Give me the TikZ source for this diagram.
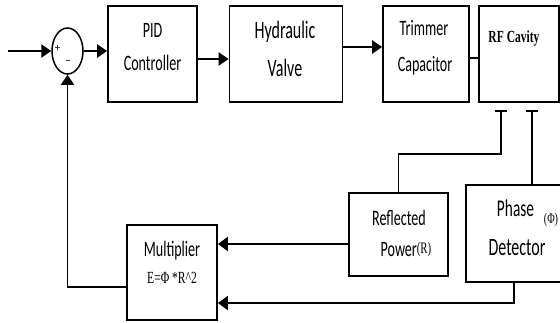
\documentclass[tikz,border=0pt]{standalone}
\usepackage{fontspec}
\setmainfont{Carlito}[FakeStretch=0.64]
\newfontfamily\tnr{Liberation Serif}[FakeStretch=0.68]
\newfontfamily\plain{Carlito}
\usetikzlibrary{arrows.meta,shapes.geometric}
\tikzset{
  blk/.style={draw, line width=1.8pt, inner sep=0pt},
  txt/.style={inner sep=0pt, text height=0.65em, text depth=0pt},
  thickarr/.style={line width=2.6pt, -{Triangle[length=10pt,width=13pt]}},
  lowarr/.style={line width=2pt, -{Triangle[length=10pt,width=14pt]}},
  wire/.style={line width=1.5pt},
  fs/.style={font=\fontsize{#1}{#1}\selectfont},
}
\begin{document}
\begin{tikzpicture}[x=1pt,y=-1pt]
\useasboundingbox (0,0) rectangle (560,322);
\clip (0,0) rectangle (560,322);
% summing junction
\node[draw, ellipse, line width=1.5pt, minimum width=31pt, minimum height=46pt, inner sep=0pt] (sum) at (67.5,51) {};
\node[inner sep=0pt, font=\plain\fontsize{11}{11}\selectfont] (plus) at (57.5,48) {+};
\node[inner sep=0pt, font=\plain\fontsize{12}{12}\selectfont] (minus) at (68,63) {–};
\coordinate (in) at (8,51);
% upper blocks
\node[blk, minimum width=89pt, minimum height=96pt] (pid) at (152.5,54) {};
\node[blk, minimum width=113pt, minimum height=96pt] (hyd) at (286,54) {};
\node[blk, minimum width=86pt, minimum height=96pt] (trim) at (426,54) {};
\node[blk, minimum width=80pt, minimum height=96pt] (rf) at (519,54) {};
% lower blocks
\node[blk, minimum width=99pt, minimum height=83pt] (refl) at (398.5,234.5) {};
\node[blk, minimum width=109pt, minimum height=97pt] (phase) at (520.5,233.5) {};
\node[blk, minimum width=90pt, minimum height=95pt] (mult) at (172,272.5) {};
% texts
\node[txt, fs=22] (t-pid) at (152.5,34) {PID};
\node[txt, fs=22] (t-con) at (152.5,67) {Controller};
\node[txt, fs=25] (t-hyd) at (285,35) {Hydraulic};
\node[txt, fs=25] (t-val) at (285,73) {Valve};
\node[txt, fs=22] (t-tri) at (424,32) {Trimmer};
\node[txt, fs=22] (t-cap) at (425,68) {Capacitor};
\node[txt, font=\tnr\bfseries\fontsize{17}{17}\selectfont] (t-rf) at (514,39) {RF Cavity};
\node[txt, fs=22] (t-ref) at (399,222) {Reflected};
\node[txt, fs=22] (t-pow) at (406,253) {Power\raisebox{3pt}{\tnr\fontsize{16}{16}\selectfont(R)}};
\node[txt, fs=24] (t-pha) at (515.5,213) {Phase};
\node[txt, font=\tnr\fontsize{15}{15}\selectfont] (t-phi) at (551,220) {(Φ)};
\node[txt, fs=25] (t-det) at (517,252) {Detector};
\node[txt, fs=22] (t-mul) at (172,253) {Multiplier};
\node[txt, font=\tnr\fontsize{17}{17}\selectfont] (t-eq) at (172,280) {E=Φ *R\textasciicircum 2};
% forward path
\draw[thickarr] (in) -- (sum.west);
\draw[thickarr] (sum.east) -- (sum.east -| pid.west);
\draw[thickarr] ([yshift=-5pt]pid.east) -- ([yshift=-5pt]hyd.west);
\draw[thickarr] ([yshift=7pt]hyd.east) -- ([yshift=7pt]trim.west);
\draw[line width=2.6pt] ([yshift=-4pt]trim.east) -- ([yshift=-4pt]rf.west);
% taps under RF cavity
\coordinate (tap1) at ([xshift=-18pt,yshift=-8pt]rf.south);
\coordinate (tap2) at ([xshift=13pt,yshift=-8pt]rf.south);
\draw[line width=1.8pt] ([xshift=-6pt]tap1) -- ([xshift=6pt]tap1);
\draw[line width=1.8pt] ([xshift=-6pt]tap2) -- ([xshift=6pt]tap2);
\draw[wire] (tap1) -- ++(0,43) -| (refl.north);
\draw[wire] (tap2) -- (tap2 |- phase.north);
% to multiplier
\draw[lowarr] ([yshift=-9.5pt]refl.west) -- ([yshift=-9.5pt]refl.west -| mult.east);
\coordinate (pd) at ([xshift=-6.5pt]phase.south);
\draw[lowarr] (pd) |- ([yshift=-30.5pt]mult.east);
% feedback
\draw[wire, -{Triangle[length=10pt,width=13pt]}] ([yshift=-14.5pt]mult.west) -| (sum.south);
\end{tikzpicture}
\end{document}
